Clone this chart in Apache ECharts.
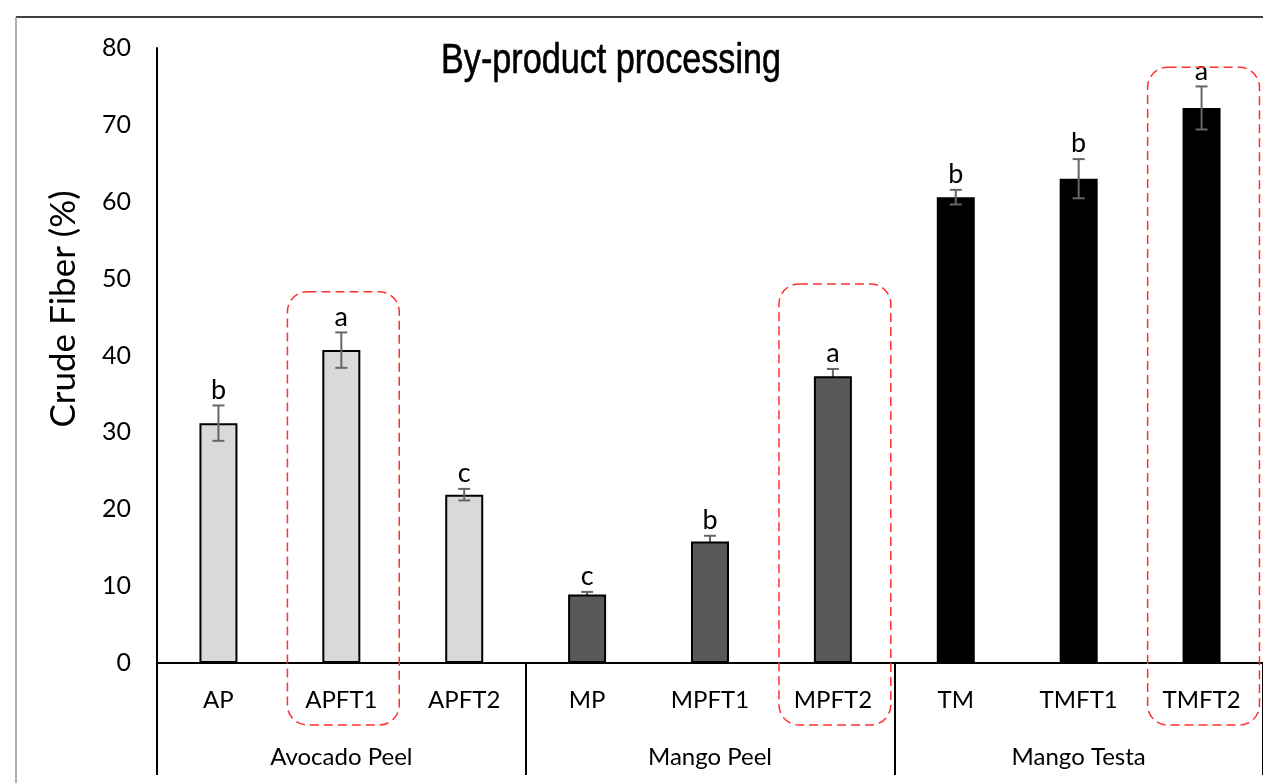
<!DOCTYPE html>
<html>
<head>
<meta charset="utf-8">
<script src="https://cdn.jsdelivr.net/npm/echarts@6/dist/echarts.min.js"></script>
<style>
  html, body { margin: 0; padding: 0; background: #fff; }
  #main { width: 1263px; height: 783px; }
</style>
</head>
<body>
<div id="main"></div>
<script>
// categories and groups (3 treatments per by-product)
var categories = ['AP', 'APFT1', 'APFT2', 'MP', 'MPFT1', 'MPFT2', 'TM', 'TMFT1', 'TMFT2'];
var groups = ['Avocado Peel', 'Mango Peel', 'Mango Testa'];
// crude fiber (%) and its error
var fiber = [31.2, 40.7, 21.9, 8.9, 15.8, 37.3, 60.6, 63.0, 72.2];
var fiberErr = [2.3, 2.3, 0.75, 0.35, 0.75, 0.95, 0.95, 2.55, 2.8];
var letters = ['b', 'a', 'c', 'c', 'b', 'a', 'b', 'b', 'a'];
// highlighted bars (best treatment of each group)
var highlighted = ['APFT1', 'MPFT2', 'TMFT2'];

var yMin = 0, yMax = 80, yStep = 10;

var groupColors = ['#d9d9d9', '#595959', '#000000'];
var FONT = 'Lato, "Open Sans", sans-serif';
var TITLE = 'By-product processing';

var myChart = echarts.init(document.getElementById('main'));

function groupOf(i) {
    return Math.floor(i / 3);
}

var barData = [];
var errRows = [];
for (var i = 0; i < categories.length; i++) {
    barData.push({
        value: fiber[i],
        itemStyle: { color: groupColors[groupOf(i)] }
    });
    errRows.push([i, fiber[i], fiberErr[i], groupOf(i)]);
}

// error bar; mango peel error bars sit behind the bars
function makeErrorRender(behind) {
    return function (params, api) {
        var grp = api.value(3);
        if ((grp === 1) !== behind) return;
        var idx = api.value(0);
        var v = api.value(1);
        var e = api.value(2);
        var top = api.coord([idx, v + e]);
        var bot = api.coord([idx, v - e]);
        var cap = 6;
        var stroke = { stroke: '#666', lineWidth: 2 };
        return {
            type: 'group',
            children: [
                { type: 'line', shape: { x1: top[0], y1: top[1], x2: bot[0], y2: bot[1] }, style: stroke },
                { type: 'line', shape: { x1: top[0] - cap, y1: top[1], x2: top[0] + cap, y2: top[1] }, style: stroke },
                { type: 'line', shape: { x1: bot[0] - cap, y1: bot[1], x2: bot[0] + cap, y2: bot[1] }, style: stroke }
            ]
        };
    };
}

function renderLetter(params, api) {
    var idx = api.value(0);
    var top = api.coord([idx, api.value(1) + api.value(2)]);
    return {
        type: 'text',
        style: {
            text: letters[idx],
            x: top[0],
            y: top[1] - 2,
            textAlign: 'center',
            textVerticalAlign: 'bottom',
            font: '27px ' + FONT,
            fill: '#000'
        }
    };
}

var option = {
    animation: false,
    grid: { left: 157, right: -1, top: 48, bottom: 120, containLabel: false },
    xAxis: [{
        type: 'category',
        data: categories,
        axisLine: { lineStyle: { color: '#000', width: 2 } },
        axisTick: { show: false },
        axisLabel: { margin: 25, fontSize: 24, fontFamily: FONT, color: '#000', interval: 0 }
    }, {
        type: 'category',
        data: groups,
        position: 'bottom',
        axisLine: { show: false },
        axisTick: { show: true, length: 112, interval: 0, lineStyle: { color: '#000', width: 2 } },
        axisLabel: { margin: 82, fontSize: 24, fontFamily: FONT, color: '#000', interval: 0 }
    }],
    yAxis: {
        type: 'value',
        min: yMin,
        max: yMax,
        interval: yStep,
        axisLine: { show: true, lineStyle: { color: '#000', width: 2 } },
        axisTick: { show: false },
        splitLine: { show: false },
        axisLabel: { margin: 26, fontSize: 25, fontFamily: FONT, color: '#000' }
    },
    series: [{
        type: 'custom',
        renderItem: makeErrorRender(true),
        data: errRows,
        z: 1
    }, {
        type: 'bar',
        data: barData,
        barWidth: 38,
        itemStyle: { borderColor: '#000', borderWidth: 2 },
        z: 2
    }, {
        type: 'custom',
        renderItem: makeErrorRender(false),
        data: errRows,
        z: 3
    }, {
        type: 'custom',
        renderItem: renderLetter,
        data: errRows,
        z: 4
    }]
};

myChart.setOption(option);

// condensed title: squeeze a normal sans to the narrow width of the original
var ctx = document.createElement('canvas').getContext('2d');
ctx.font = '42px "Liberation Sans"';
var titleScale = 340 / ctx.measureText(TITLE).width;

var graphics = [
    { type: 'line', shape: { x1: 16, y1: 17, x2: 1263, y2: 17 }, style: { stroke: '#000', lineWidth: 1.5 } },
    { type: 'line', shape: { x1: 16, y1: 17, x2: 16, y2: 783 }, style: { stroke: '#999', lineWidth: 1.5 } },
    {
        type: 'text', x: 441, y: 40, scaleX: titleScale,
        style: {
            text: TITLE, font: '42px "Liberation Sans"', fill: '#000',
            stroke: '#000', lineWidth: 0.6,
            textAlign: 'left', textVerticalAlign: 'top'
        }
    },
    {
        type: 'text', x: 64, y: 309, rotation: Math.PI / 2,
        style: { text: 'Crude Fiber (%)', font: '35px ' + FONT, fill: '#000', textAlign: 'center', textVerticalAlign: 'middle' }
    }
];

// dashed rounded boxes round the highlighted bars, built from the axis scales
var boxTops = { APFT1: 48.3, MPFT2: 49.3, TMFT2: 77.5 };
var band = myChart.convertToPixel({ xAxisIndex: 0 }, 1) - myChart.convertToPixel({ xAxisIndex: 0 }, 0);
var zeroY = myChart.convertToPixel({ yAxisIndex: 0 }, 0);
highlighted.forEach(function (name) {
    var cx = myChart.convertToPixel({ xAxisIndex: 0 }, name);
    var ty = myChart.convertToPixel({ yAxisIndex: 0 }, boxTops[name]);
    var w = band * 0.91;
    graphics.push({
        type: 'rect',
        shape: { x: cx - w / 2 + 2, y: ty, width: w, height: zeroY + 62 - ty, r: 20 },
        style: { fill: 'none', stroke: '#ff3030', lineWidth: 1.5, lineDash: [9, 5] },
        z: 10
    });
});
myChart.setOption({ graphic: graphics });
</script>
</body>
</html>
